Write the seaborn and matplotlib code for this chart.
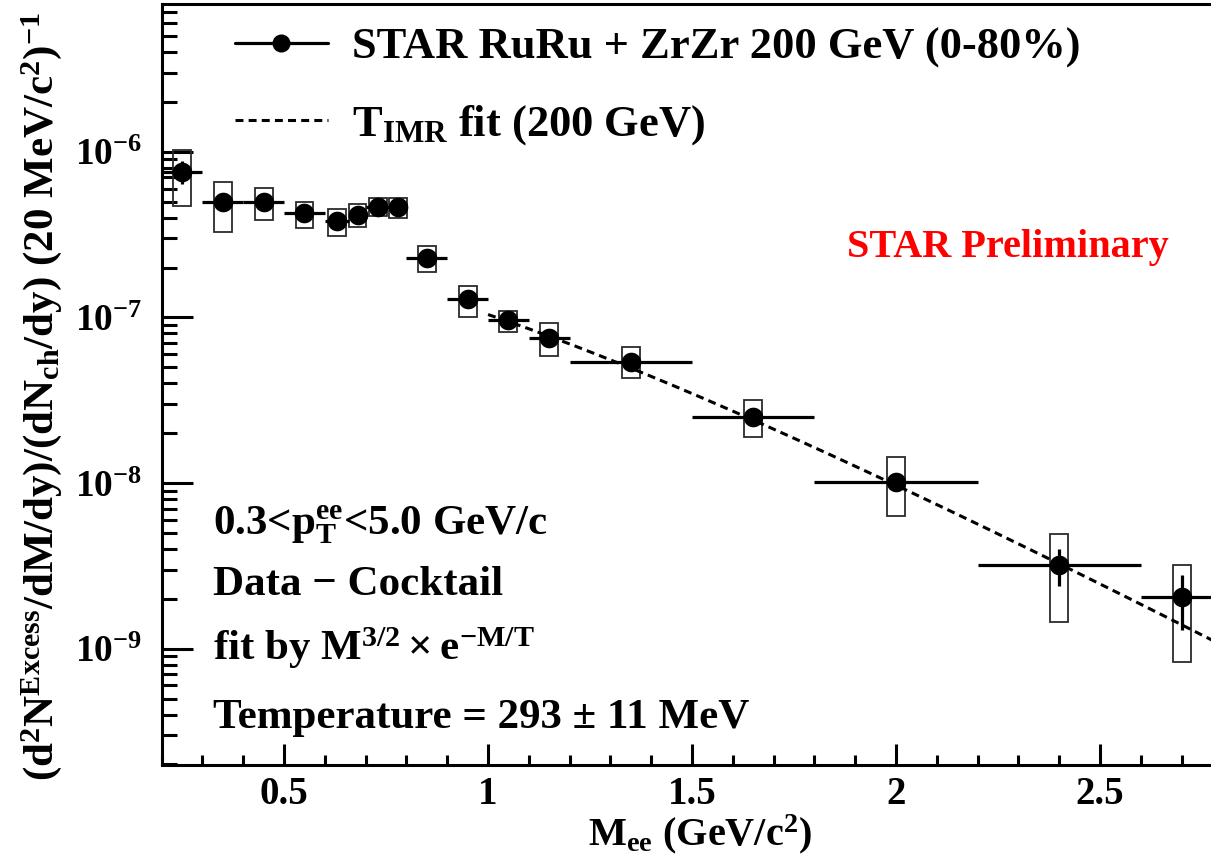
import numpy as np
import pandas as pd
import matplotlib
matplotlib.use("Agg")
import matplotlib.pyplot as plt
from matplotlib.lines import Line2D
from matplotlib.ticker import FixedLocator, MultipleLocator, LogLocator, NullFormatter
import seaborn as sns

# ---- data: excess dielectron yield, STAR RuRu + ZrZr 200 GeV (0-80%) ----
mass = [0.25, 0.35, 0.45, 0.55, 0.63, 0.68, 0.73, 0.78, 0.85, 0.95,
        1.05, 1.15, 1.35, 1.65, 2.0, 2.4, 2.7]
bin_half_width = [0.05, 0.05, 0.05, 0.05, 0.03, 0.02, 0.03, 0.02, 0.05, 0.05,
                  0.05, 0.05, 0.15, 0.15, 0.2, 0.2, 0.1]
excess_yield = [7.6e-7, 4.95e-7, 4.95e-7, 4.27e-7, 3.83e-7, 4.16e-7, 4.65e-7, 4.65e-7,
                2.29e-7, 1.29e-7, 9.66e-8, 7.52e-8, 5.38e-8, 2.51e-8, 1.01e-8,
                3.2e-9, 2.05e-9]
stat_err = [1.2e-7, 2.5e-8, 2.5e-8, 2.0e-8, 2.0e-8, 2.0e-8, 2.0e-8, 2.0e-8,
            1.2e-8, 7.0e-9, 5.0e-9, 4.0e-9, 3.0e-9, 2.0e-9, 1.0e-9, 8.0e-10, 7.5e-10]
sys_low = [4.72e-7, 3.29e-7, 3.89e-7, 3.47e-7, 3.10e-7, 3.52e-7, 4.07e-7, 4.00e-7,
           1.88e-7, 1.01e-7, 8.17e-8, 5.85e-8, 4.31e-8, 1.90e-8, 6.32e-9,
           1.45e-9, 8.3e-10]
sys_high = [1.03e-6, 6.59e-7, 6.05e-7, 4.99e-7, 4.53e-7, 4.86e-7, 5.27e-7, 5.27e-7,
            2.70e-7, 1.55e-7, 1.09e-7, 9.27e-8, 6.64e-8, 3.18e-8, 1.44e-8,
            4.92e-9, 3.2e-9]

# thermal fit in the intermediate mass region: A * M^(3/2) * exp(-M/T)
fit_temperature = 0.293   # GeV
fit_norm = 3.16e-6
fit_range = [1.0, 2.8]

x_tick_values = [0.5, 1.0, 1.5, 2.0, 2.5]
x_tick_labels = ["0.5", "1", "1.5", "2", "2.5"]
y_tick_values = [1e-9, 1e-8, 1e-7, 1e-6]
y_tick_labels = [r"$10^{-9}$", r"$10^{-8}$", r"$10^{-7}$", r"$10^{-6}$"]

df = pd.DataFrame({"mass": mass, "yield": excess_yield})

# ---- style ----
sns.set_theme(style="ticks")
plt.rcParams["font.family"] = ["Liberation Serif", "DejaVu Serif"]
plt.rcParams["font.weight"] = "bold"
plt.rcParams["mathtext.fontset"] = "custom"
plt.rcParams["mathtext.rm"] = "Liberation Serif:bold"
plt.rcParams["mathtext.it"] = "Liberation Serif:bold"
plt.rcParams["mathtext.bf"] = "Liberation Serif:bold"
plt.rcParams["mathtext.default"] = "rm"
for key in ["text.color", "axes.labelcolor", "xtick.color", "ytick.color",
            "axes.edgecolor"]:
    plt.rcParams[key] = "black"

W, H = 1211, 859
fig = plt.figure(figsize=(W / 100, H / 100), dpi=100)
ax_left, ax_right, ax_bottom, ax_top = 161.7, 1222.4, 764.5, 4.0
ax = fig.add_axes([ax_left / W, 1 - ax_bottom / H,
                   (ax_right - ax_left) / W, (ax_bottom - ax_top) / H])
ax.set_yscale("log")
ax.set_xlim(0.2, 2.8)
ax.set_ylim(2e-10, 7.8e-6)

# systematic uncertainty boxes
ax.bar(mass, np.array(sys_high) - np.array(sys_low), bottom=sys_low, width=0.044,
       fill=False, edgecolor="#2b2b2b", linewidth=1.3, zorder=2)

# statistical errors and bin widths
ax.errorbar(mass, excess_yield, xerr=bin_half_width, yerr=stat_err, fmt="none",
            ecolor="black", elinewidth=2.3, capsize=0, zorder=3)

# data points
sns.scatterplot(data=df, x="mass", y="yield", ax=ax, color="black", s=200,
                linewidth=0, zorder=4, legend=False)

# thermal fit curve
m_fit = np.linspace(fit_range[0], fit_range[1], 200)
fit_df = pd.DataFrame({"mass": m_fit,
                       "yield": fit_norm * m_fit ** 1.5 * np.exp(-m_fit / fit_temperature)})
sns.lineplot(data=fit_df, x="mass", y="yield", ax=ax, color="black", linewidth=2.2,
             linestyle=(0, (2.6, 1.7)), zorder=5, legend=False)

# ---- axes decoration ----
for side in ["left", "bottom", "top", "right"]:
    ax.spines[side].set_linewidth(2.2)
    ax.spines[side].set_color("black")

ax.xaxis.set_major_locator(FixedLocator(x_tick_values))
ax.set_xticklabels(x_tick_labels)
ax.xaxis.set_minor_locator(MultipleLocator(0.1))
ax.yaxis.set_major_locator(FixedLocator(y_tick_values))
ax.set_yticklabels(y_tick_labels)
ax.yaxis.set_minor_locator(LogLocator(base=10, subs=np.arange(2, 10), numticks=30))
ax.yaxis.set_minor_formatter(NullFormatter())

ax.tick_params(axis="x", which="major", direction="in", length=15, width=2.2,
               labelsize=28, pad=8, top=False)
ax.tick_params(axis="x", which="minor", direction="in", length=7.5, width=2.2, top=False)
ax.tick_params(axis="y", which="major", direction="in", length=22, width=2.2,
               labelsize=27, pad=14, right=False)
ax.tick_params(axis="y", which="minor", direction="in", length=11, width=2.2, right=False)
ax.set_xlabel("")
ax.set_ylabel("")

fig.text(700 / W, 1 - 845 / H, r"$M_{ee}$ (GeV/$c^{2}$)", fontsize=29,
         ha="center", va="baseline")
fig.text(42 / W, 1 - 397 / H,
         r"$(d^{2}N^{Excess}/dM/dy)/(dN_{ch}/dy)$ (20 MeV/$c^{2})^{-1}$",
         fontsize=31, rotation=90, ha="center", va="center")

# ---- legend ----
h_data = Line2D([], [], color="black", lw=2.3, marker="o", ms=13, mew=0)
h_fit = Line2D([], [], color="black", lw=2.2, linestyle=(0, (2.6, 1.7)))
leg_kw = dict(frameon=False, fontsize=32, borderpad=0, borderaxespad=0,
              handlelength=2.09, handletextpad=0.54, loc="center left")
leg1 = fig.legend([h_data], ["STAR RuRu + ZrZr 200 GeV (0-80%)"],
                  bbox_to_anchor=(235 / W, 1 - 48 / H), **leg_kw)
leg2 = fig.legend([h_fit], [r"$T_{IMR}$ fit (200 GeV)"],
                  bbox_to_anchor=(235 / W, 1 - 125 / H), **leg_kw)

fig.text(1008 / W, 1 - 257 / H, "STAR Preliminary", color="red", fontsize=29,
         ha="center", va="baseline")

# ---- annotation block ----
notes = [r"0.3<$p_{T}^{ee}$<5.0 GeV/c",
         "Data \u2212 Cocktail",
         r"fit by $M^{3/2}\times e^{-M/T}$",
         "Temperature = 293 \u00b1 11 MeV"]
note_baselines = [535, 595, 660, 728]
for txt, yb in zip(notes, note_baselines):
    fig.text(213 / W, 1 - yb / H, txt, fontsize=31, ha="left", va="baseline")

fig.savefig("out.png", dpi=100)
